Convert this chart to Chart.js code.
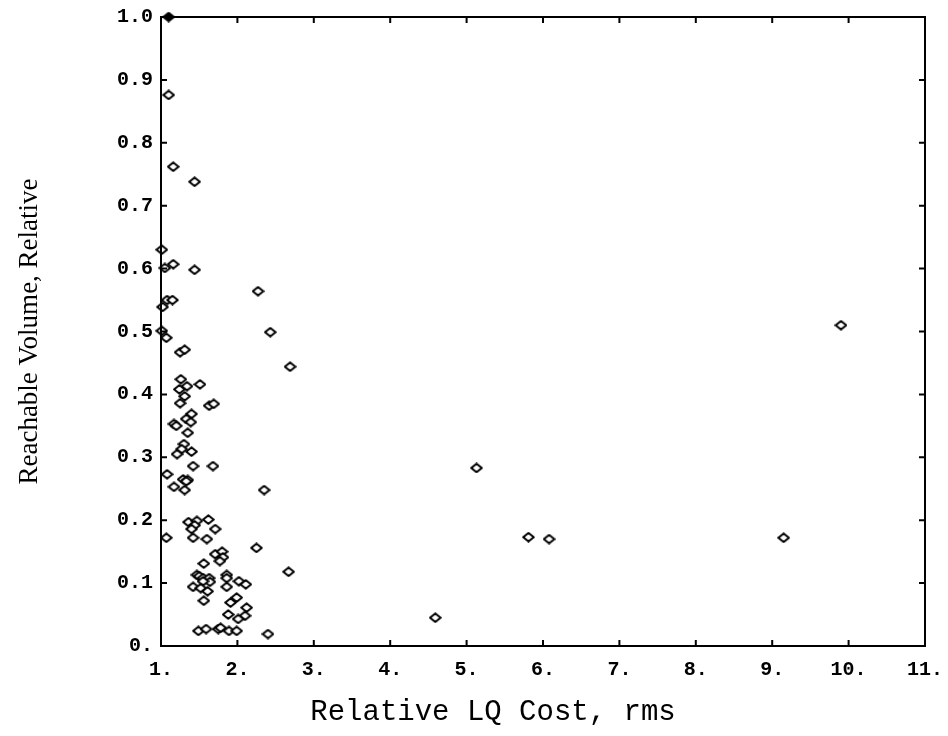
<!DOCTYPE html>
<html>
<head>
<meta charset="utf-8">
<script src="https://cdn.jsdelivr.net/npm/chart.js@4.4.1/dist/chart.umd.min.js"></script>
<style>
  html, body { margin: 0; padding: 0; background: #fff; }
  #wrap { width: 948px; height: 736px; }
</style>
</head>
<body>
<div id="wrap"><canvas id="lqChart" width="948" height="736"></canvas></div>
<script>
// relative LQ cost (rms) vs. reachable volume, one entry per design
const lqCost = [
  1.10, 1.16, 1.44, 1.01, 1.05, 1.16, 1.44, 2.27, 1.08, 1.15,
  1.02, 1.01, 1.07, 2.43, 1.25, 1.31, 2.69, 1.26, 1.51, 1.34,
  1.24, 1.31, 1.25, 1.63, 1.69, 1.40, 1.33, 1.39, 1.17, 1.20,
  1.35, 1.30, 1.27, 1.40, 1.21, 1.42, 1.68, 1.08, 1.29, 1.35,
  1.33, 1.17, 1.31, 2.35, 1.36, 1.47, 1.62, 1.44, 1.40, 1.71,
  1.07, 1.42, 1.60, 2.25, 1.71, 1.80, 1.81, 1.77, 1.56, 2.67,
  1.47, 1.50, 1.55, 1.63, 1.64, 1.55, 1.86, 1.86, 2.02, 2.11,
  1.42, 1.52, 1.61, 1.86, 1.99, 1.91, 1.56, 2.12, 1.88, 2.10,
  2.01, 1.49, 1.59, 1.75, 1.78, 1.89, 1.99, 2.40, 4.59, 5.13,
  5.81, 6.08, 9.15, 9.90
];
const reachVol = [
  0.876, 0.762, 0.738, 0.630, 0.601, 0.607, 0.598, 0.564, 0.550, 0.550,
  0.539, 0.501, 0.490, 0.499, 0.467, 0.471, 0.444, 0.424, 0.416, 0.413,
  0.408, 0.397, 0.386, 0.382, 0.385, 0.369, 0.361, 0.356, 0.353, 0.350,
  0.339, 0.321, 0.313, 0.309, 0.305, 0.286, 0.286, 0.273, 0.265, 0.264,
  0.262, 0.253, 0.248, 0.248, 0.197, 0.199, 0.201, 0.192, 0.186, 0.186,
  0.172, 0.172, 0.170, 0.156, 0.146, 0.150, 0.141, 0.135, 0.131, 0.118,
  0.113, 0.111, 0.108, 0.108, 0.102, 0.103, 0.113, 0.108, 0.103, 0.098,
  0.094, 0.092, 0.087, 0.094, 0.077, 0.069, 0.072, 0.061, 0.050, 0.048,
  0.043, 0.024, 0.027, 0.027, 0.029, 0.024, 0.024, 0.019, 0.045, 0.283,
  0.173, 0.170, 0.172, 0.510
];
// nominal design (filled marker)
const nominalCost = [1.10];
const nominalVol = [1.00];

const xTicks = [1, 2, 3, 4, 5, 6, 7, 8, 9, 10, 11];
const yTicks = [0, 0.1, 0.2, 0.3, 0.4, 0.5, 0.6, 0.7, 0.8, 0.9, 1.0];

const xTitle = 'Relative LQ Cost, rms';
const yTitle = 'Reachable Volume, Relative';

function toPoints(xs, ys) { return xs.map((x, i) => ({ x: x, y: ys[i] })); }

// slightly flattened diamond marker
function diamond(fill) {
  const c = document.createElement('canvas');
  c.width = 13; c.height = 11;
  const g = c.getContext('2d');
  g.beginPath();
  g.moveTo(6.5, 1.2); g.lineTo(11.8, 5.5); g.lineTo(6.5, 9.8); g.lineTo(1.2, 5.5);
  g.closePath();
  g.fillStyle = fill;
  g.fill();
  g.lineWidth = 2;
  g.strokeStyle = '#000';
  g.lineJoin = 'round';
  g.stroke();
  return c;
}

const tickFont = { family: '"Liberation Mono", "Courier New", monospace', size: 20, weight: 'bold' };

// frame with inward ticks on all four sides + the two axis titles
const framePlugin = {
  id: 'frame',
  afterDraw(chart) {
    const { ctx, chartArea: a, scales } = chart;
    const len = 6;
    ctx.save();
    ctx.strokeStyle = '#000';
    ctx.lineWidth = 2;
    ctx.strokeRect(a.left, a.top, a.right - a.left, a.bottom - a.top);
    ctx.beginPath();
    xTicks.forEach(v => {
      const px = scales.x.getPixelForValue(v);
      ctx.moveTo(px, a.bottom); ctx.lineTo(px, a.bottom - len);
      ctx.moveTo(px, a.top); ctx.lineTo(px, a.top + len);
    });
    yTicks.forEach(v => {
      const py = scales.y.getPixelForValue(v);
      ctx.moveTo(a.left, py); ctx.lineTo(a.left + len, py);
      ctx.moveTo(a.right, py); ctx.lineTo(a.right - len, py);
    });
    ctx.stroke();

    ctx.fillStyle = '#000';
    ctx.textAlign = 'center';
    ctx.textBaseline = 'middle';
    ctx.font = '29px "Liberation Mono", "Courier New", monospace';
    ctx.fillText(xTitle, a.left + 332, a.bottom + 66);

    ctx.translate(30, (a.top + a.bottom) / 2);
    ctx.rotate(-Math.PI / 2);
    ctx.font = '27px "Liberation Serif", "Times New Roman", serif';
    ctx.fillText(yTitle, 0, 0);
    ctx.restore();
  }
};

new Chart(document.getElementById('lqChart'), {
  type: 'scatter',
  data: {
    datasets: [
      {
        data: toPoints(lqCost, reachVol),
        pointStyle: diamond('#fff'),
        pointRadius: 5,
        clip: false
      },
      {
        data: toPoints(nominalCost, nominalVol),
        pointStyle: diamond('#000'),
        pointRadius: 5,
        clip: false
      }
    ]
  },
  options: {
    responsive: false,
    animation: false,
    layout: { padding: { top: 17, right: 23, left: 0, bottom: 0 } },
    plugins: { legend: { display: false }, tooltip: { enabled: false } },
    scales: {
      x: {
        type: 'linear',
        min: 1, max: 11,
        afterFit(scale) { scale.height = 90; scale.paddingLeft = 0; scale.paddingRight = 0; },
        afterBuildTicks(scale) { scale.ticks = xTicks.map(v => ({ value: v })); },
        grid: { display: false, drawTicks: false },
        border: { display: false },
        ticks: {
          color: '#000', font: tickFont, padding: 12, maxRotation: 0, autoSkip: false,
          callback: v => v + '.'
        }
      },
      y: {
        type: 'linear',
        min: 0, max: 1,
        afterFit(scale) { scale.width = 161; scale.paddingTop = 0; scale.paddingBottom = 0; },
        afterBuildTicks(scale) { scale.ticks = yTicks.map(v => ({ value: v })); },
        grid: { display: false, drawTicks: false },
        border: { display: false },
        ticks: {
          color: '#000', font: tickFont, padding: 8, autoSkip: false,
          callback: v => v === 0 ? '0.' : v.toFixed(1)
        }
      }
    }
  },
  plugins: [framePlugin]
});
</script>
</body>
</html>
